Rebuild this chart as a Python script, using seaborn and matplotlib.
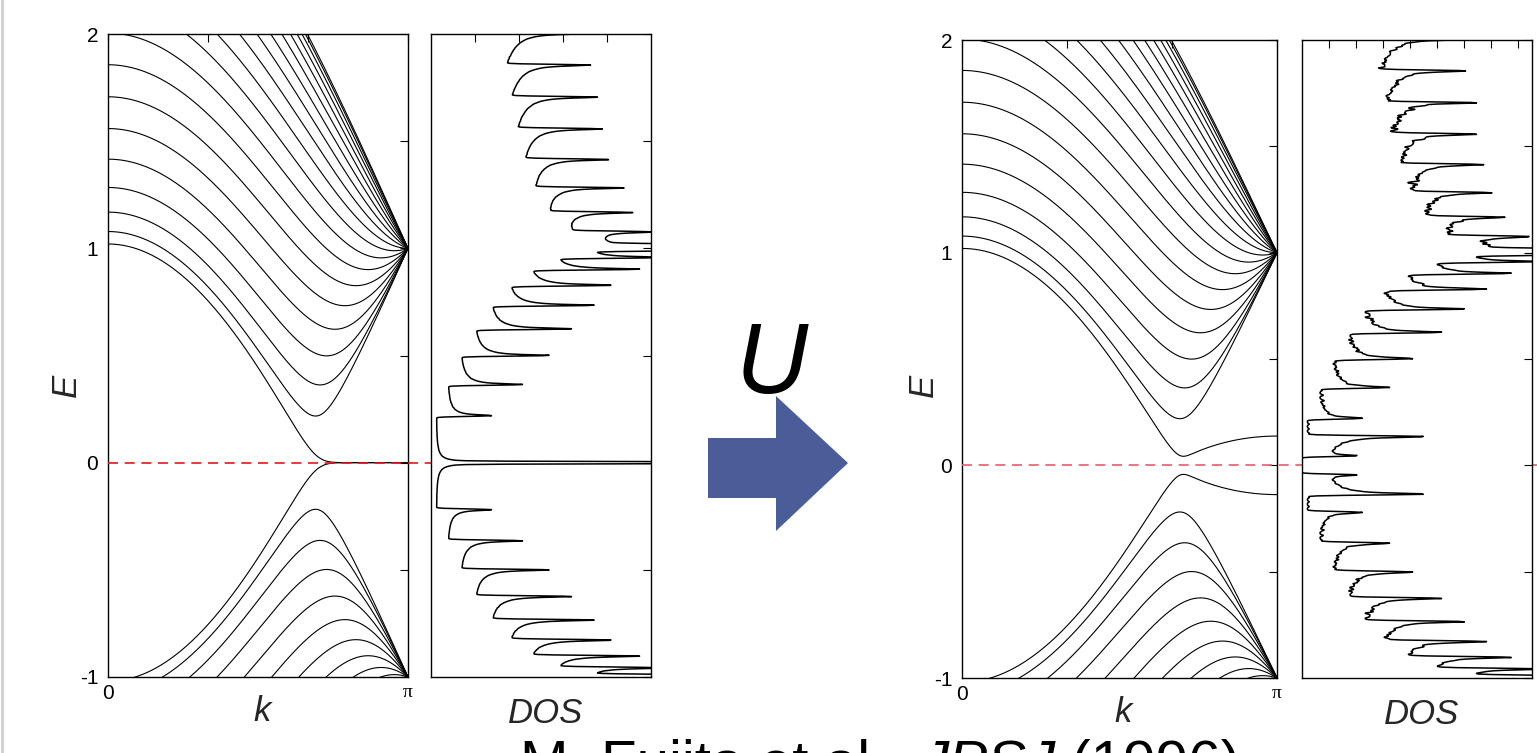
import numpy as np
import pandas as pd
import matplotlib
matplotlib.use("Agg")
import matplotlib.pyplot as plt
from matplotlib import font_manager
from matplotlib.patches import Polygon
from matplotlib.lines import Line2D
import seaborn as sns

# ------------------------------------------------------------------ data
n_zigzag_chains = 20            # ribbon width N (number of zigzag chains)
hopping_t = 1.0                 # nearest-neighbour hopping (energy unit)
hubbard_U = [0.0, 1.0]          # left: tight binding, right: Hubbard mean field
fermi_level = 0.0
E_limits = [-1.0, 2.0]
E_tick_values = [-1.0, -0.5, 0.0, 0.5, 1.0, 1.5, 2.0]
E_tick_labels = ["-1", "", "0", "", "1", "", "2"]
k_limits = [0.0, np.pi]
k_tick_values = [0.0, np.pi / 3, 2 * np.pi / 3, np.pi]
k_tick_labels = ["0", "", "", "π"]
dos_limits = [0.0, 17.0]
dos_ticks_left = [3.4, 6.8, 10.2, 13.6]
dos_ticks_right = [2, 4, 6, 8, 10, 12, 14, 16]
arrow_label = "U"
citation_parts = ["M. Fujita et al., ", "JPSJ", " (1996)"]
citation_styles = ["normal", "italic", "normal"]

# ------------------------------------------------------------------ model
DIM = 2 * n_zigzag_chains


def ribbon_h(k, onsite):
    H = np.zeros((len(k), DIM, DIM))
    intra = -2.0 * hopping_t * np.cos(k / 2.0)
    for i in range(n_zigzag_chains):
        a, b = 2 * i, 2 * i + 1
        H[:, a, b] = intra
        H[:, b, a] = intra
        if i < n_zigzag_chains - 1:
            H[:, b, b + 1] = -hopping_t
            H[:, b + 1, b] = -hopping_t
    idx = np.arange(DIM)
    H[:, idx, idx] += onsite
    return H


def eigvals_chunked(k, onsite, chunk=2000):
    return np.concatenate([np.linalg.eigvalsh(ribbon_h(k[i:i + chunk], onsite))
                           for i in range(0, len(k), chunk)])


def mean_field_potential(U):
    if U == 0:
        return np.zeros(DIM)
    k = (np.arange(300) + 0.5) * np.pi / 300
    stag = np.where(np.arange(DIM) % 2 == 0, 1.0, -1.0)
    n_up = 0.5 + 0.2 * stag
    n_dn = 1.0 - n_up
    for _ in range(160):
        dens = []
        for V in (U * (n_dn - 0.5), U * (n_up - 0.5)):
            w, v = np.linalg.eigh(ribbon_h(k, V))
            occ = (w < fermi_level).astype(float)
            dens.append(np.einsum("kin,kn->i", np.abs(v) ** 2, occ) / len(k))
        n_up = 0.5 * n_up + 0.5 * dens[0]
        n_dn = 0.5 * n_dn + 0.5 * dens[1]
    return U * (n_dn - 0.5)


def dos_curve(nk, onsite, dE, smooth_bins):
    k = (np.arange(nk) + 0.5) * np.pi / nk
    ev = eigvals_chunked(k, onsite)
    nb = int(round((E_limits[1] - E_limits[0] + 0.2) / dE))
    edges = E_limits[0] - 0.1 + dE * np.arange(nb + 1)
    hist, _ = np.histogram(ev.ravel(), bins=edges)
    g = hist / (nk * dE)
    if smooth_bins > 0:
        x = np.arange(-int(4 * smooth_bins) - 1, int(4 * smooth_bins) + 2)
        ker = np.exp(-0.5 * (x / smooth_bins) ** 2)
        ker /= ker.sum()
        g = np.convolve(g, ker, mode="same")
    return 0.5 * (edges[1:] + edges[:-1]), g


def band_frame(k, bands):
    nk, nb = bands.shape
    return pd.DataFrame({"k": np.repeat(k, nb), "E": bands.ravel(),
                         "band": np.tile(np.arange(nb), nk)})


k_plot = np.linspace(k_limits[0], k_limits[1], 700)
potentials = [mean_field_potential(U) for U in hubbard_U]
band_frames = [band_frame(k_plot, eigvals_chunked(k_plot, V)) for V in potentials]
dos_data = [dos_curve(12000, potentials[0], 0.002, 1.3),
            dos_curve(1000, potentials[1], 0.0025, 1.2)]

# ------------------------------------------------------------------ style
sns.set_style("white")
names = {f.name for f in font_manager.fontManager.ttflist}
narrow = "Liberation Sans Narrow" if "Liberation Sans Narrow" in names else "Liberation Sans"
plt.rcParams["font.family"] = [narrow, "Liberation Sans", "DejaVu Sans"]

W, H = 1537, 753
fig = plt.figure(figsize=(W / 100, H / 100), dpi=100)
fig.patch.set_facecolor("white")


def px_axes(x0, x1, y0, y1):
    return fig.add_axes([x0 / W, (H - y1) / H, (x1 - x0) / W, (y1 - y0) / H])


layout = [
    dict(band=(108, 408, 34, 677), dos=(431, 651, 34, 677), dos_ticks=dos_ticks_left,
         red="#e8141e", E_x=-0.14, E_y=0.454),
    dict(band=(962, 1277, 40, 678), dos=(1302, 1532, 40, 678), dos_ticks=dos_ticks_right,
         red="#ee5a6a", E_x=-0.124, E_y=0.458),
]


def frame(ax):
    for s in ax.spines.values():
        s.set_visible(True)
        s.set_color("black")
        s.set_linewidth(1.0)
    ax.tick_params(axis="both", which="major", direction="in", length=6, width=0.8,
                   top=True, right=True, color="black", labelsize=15, labelcolor="black")


for i, L in enumerate(layout):
    axb = px_axes(*L["band"])
    axd = px_axes(*L["dos"])
    sns.lineplot(data=band_frames[i], x="k", y="E", units="band", estimator=None,
                 color="black", linewidth=0.8, ax=axb, legend=False)
    centers, g = dos_data[i]
    sns.lineplot(x=g, y=centers, sort=False, estimator=None, color="black",
                 linewidth=1.1, ax=axd, legend=False)

    axb.set_xlim(k_limits)
    axb.set_ylim(E_limits)
    axb.set_xticks(k_tick_values)
    axb.set_xticklabels(k_tick_labels)
    axb.set_yticks(E_tick_values)
    axb.set_yticklabels(E_tick_labels)
    frame(axb)
    axb.tick_params(axis="y", pad=7)
    axb.tick_params(axis="x", pad=5)
    pi_lab = axb.get_xticklabels()[-1]
    pi_lab.set_fontfamily(["Liberation Serif", "DejaVu Serif"])
    pi_lab.set_fontsize(14)

    axb.set_xlabel("k", fontsize=25, style="italic")
    axb.xaxis.set_label_coords(0.513, -0.028)
    axb.xaxis.label.set_va("top")
    axb.set_ylabel("E", fontsize=25, style="italic")
    axb.yaxis.label.set_va("center")
    axb.yaxis.set_label_coords(L["E_x"], L["E_y"])

    axd.set_xlim(dos_limits)
    axd.set_ylim(E_limits)
    axd.set_xticks(L["dos_ticks"])
    axd.set_xticklabels([])
    axd.set_yticks(E_tick_values)
    axd.set_yticklabels([])
    frame(axd)
    axd.set_xlabel("DOS", fontsize=25, style="italic")
    axd.xaxis.set_label_coords(0.52, -0.031)
    axd.xaxis.label.set_va("top")
    axd.set_ylabel("")

    # Fermi level across both panels
    x0, x1 = L["band"][0], L["band"][1]
    span = ((L["dos"][1] if i == 0 else W) - x0) / (x1 - x0)
    axb.axhline(fermi_level, xmin=0, xmax=span, clip_on=False, color=L["red"],
                linewidth=1.2, dashes=(6, 4), zorder=10)

# block arrow with U
arrow_px = [(708, 438), (776, 438), (776, 396), (848, 463), (776, 531), (776, 498), (708, 498)]
fig.patches.append(Polygon([(x / W, (H - y) / H) for x, y in arrow_px], closed=True,
                           transform=fig.transFigure, facecolor="#4a5d98",
                           edgecolor="none", zorder=5))
fig.text(772 / W, (H - 393) / H, arrow_label, fontsize=72, style="italic",
         ha="center", va="baseline", color="black")

# left grey border
fig.lines.append(Line2D([1.5 / W, 1.5 / W], [0, 1], transform=fig.transFigure,
                        color="#cfcfcf", linewidth=2))

# citation (partially cut at the bottom edge, as in the reference)
renderer = fig.canvas.get_renderer()
xpos = 520 / W
ybase = (H - 781) / H
for part, style in zip(citation_parts, citation_styles):
    t = fig.text(xpos, ybase, part, fontsize=42, style=style, ha="left", va="baseline",
                 family=["Liberation Sans", "DejaVu Sans"], color="black")
    bb = t.get_window_extent(renderer)
    xpos = bb.x1 / W

fig.savefig("out.png", dpi=100)
